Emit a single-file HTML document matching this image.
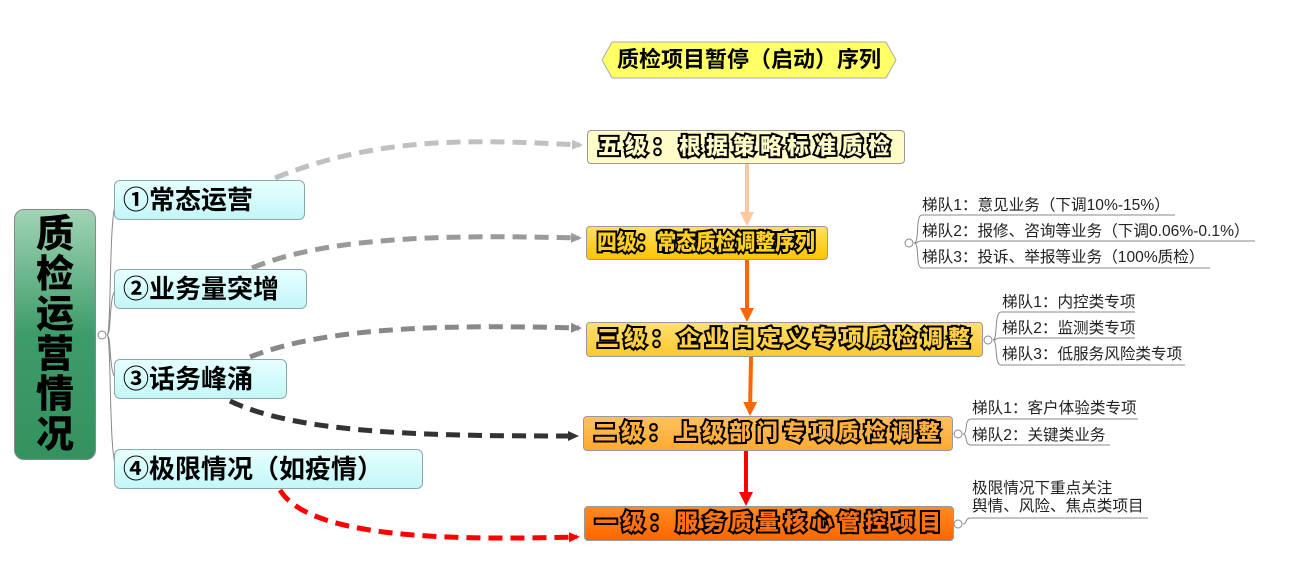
<!DOCTYPE html>
<html><head><meta charset="utf-8"><style>
body{margin:0;width:1299px;height:586px;background:#fff;position:relative;overflow:hidden;font-family:"Liberation Sans","Noto Sans CJK SC",sans-serif}
.a{position:absolute;box-sizing:border-box}
.br{background:linear-gradient(#e6ffff,#c4f6f8);border:1px solid #8aa;border-radius:6px;font-size:26px;font-weight:bold;color:#000;padding-left:8px;line-height:38px;white-space:nowrap}
.lv{border:1px solid #999;border-radius:4px;font-size:22px;font-weight:900;line-height:32px;padding-left:10px;white-space:nowrap;-webkit-text-stroke:4px #000;paint-order:stroke fill;letter-spacing:5px;overflow:hidden}
.t{font-size:15.6px;color:#222;white-space:nowrap;line-height:18px}
</style></head><body>
<svg class="a" style="left:0;top:0" width="1299" height="586">
<defs>
<marker id="m1" markerWidth="12" markerHeight="12" refX="8" refY="6" orient="auto" markerUnits="userSpaceOnUse"><path d="M0,1L11,6L0,11z" fill="#c0c0c0"/></marker>
<marker id="m2" markerWidth="12" markerHeight="12" refX="8" refY="6" orient="auto" markerUnits="userSpaceOnUse"><path d="M0,1L11,6L0,11z" fill="#999"/></marker>
<marker id="m3" markerWidth="12" markerHeight="12" refX="8" refY="6" orient="auto" markerUnits="userSpaceOnUse"><path d="M0,1L11,6L0,11z" fill="#888"/></marker>
<marker id="m4" markerWidth="12" markerHeight="12" refX="8" refY="6" orient="auto" markerUnits="userSpaceOnUse"><path d="M0,1L11,6L0,11z" fill="#333"/></marker>
<marker id="m5" markerWidth="12" markerHeight="12" refX="8" refY="6" orient="auto" markerUnits="userSpaceOnUse"><path d="M0,1L11,6L0,11z" fill="#f00"/></marker>
<marker id="v1" markerWidth="16" markerHeight="16" refX="10" refY="8" orient="auto" markerUnits="userSpaceOnUse"><path d="M0,1L14,8L0,15z" fill="#ffc8a0"/></marker>
<marker id="v2" markerWidth="16" markerHeight="16" refX="10" refY="8" orient="auto" markerUnits="userSpaceOnUse"><path d="M0,1L14,8L0,15z" fill="#ff6600"/></marker>
<marker id="v3" markerWidth="16" markerHeight="16" refX="10" refY="8" orient="auto" markerUnits="userSpaceOnUse"><path d="M0,1L14,8L0,15z" fill="#f00"/></marker>
</defs>
<g fill="none" stroke-width="5" stroke-dasharray="14 8">
<path d="M275,178 C380,135 480,140 580,145" stroke="#c0c0c0" marker-end="url(#m1)"/>
<path d="M252,268 C330,235 460,235 579,238" stroke="#999" marker-end="url(#m2)"/>
<path d="M250,357 C330,325 460,325 579,328" stroke="#888" marker-end="url(#m3)"/>
<path d="M230,401 C300,435 440,436 576,436" stroke="#333" marker-end="url(#m4)"/>
<path d="M280,490 C310,540 460,540 577,537" stroke="#f00" marker-end="url(#m5)"/>
</g>
<g stroke-width="4">
<line x1="747" y1="164" x2="747" y2="222" stroke="#ffc8a0" marker-end="url(#v1)"/>
<line x1="747" y1="260" x2="747" y2="318" stroke="#ff6600" marker-end="url(#v2)"/>
<line x1="751" y1="357" x2="750" y2="412" stroke="#ff6600" marker-end="url(#v2)"/>
<line x1="746" y1="451" x2="746" y2="502" stroke="#f00" marker-end="url(#v3)"/>
</g>
<g fill="none" stroke="#888" stroke-width="1">
<path d="M107,335 C112,335 108,200 118,200"/>
<path d="M107,335 C112,335 108,289 118,289"/>
<path d="M107,335 C112,335 108,379 118,379"/>
<path d="M107,335 C112,335 108,469 118,469"/>
<circle cx="102" cy="335" r="4" fill="#fff"/>
<path d="M914,243 C920,243 915,215 922,215 L1175,215"/>
<path d="M914,243 C920,243 915,241 922,241 L1255,241"/>
<path d="M914,243 C920,243 915,268 922,268 L1210,268"/>
<circle cx="909" cy="243" r="4" fill="#fff"/>
<path d="M993,340 C998,340 994,312 1001,312 L1135,312"/>
<path d="M993,340 C998,340 994,338 1001,338 L1135,338"/>
<path d="M993,340 C998,340 994,365 1001,365 L1185,365"/>
<circle cx="988" cy="340" r="4" fill="#fff"/>
<path d="M963,434 C968,434 964,419 971,419 L1138,419"/>
<path d="M963,434 C968,434 964,445 971,445 L1110,445"/>
<circle cx="958" cy="434" r="4" fill="#fff"/>
<path d="M963,524 C968,524 964,518 971,518 L1148,518"/>
<circle cx="958" cy="524" r="4" fill="#fff"/>
</g>
<path d="M612,42 L886,42 L896,60 L886,78 L612,78 L602,60 Z" fill="#ffff66" stroke="#aaa" stroke-width="1"/>
</svg>
<div class="a" style="left:602px;top:42px;width:294px;height:36px;text-align:center;font-size:22px;font-weight:bold;line-height:36px">质检项目暂停（启动）序列</div>
<div class="a" style="left:14px;top:209px;width:82px;height:251px;border-radius:10px;border:1px solid #888;background:linear-gradient(#a0d4b4,#3d9c6a 50%,#34925f);font-size:38px;font-weight:900;text-align:center;line-height:40px;padding-top:5px">质<br>检<br>运<br>营<br>情<br>况</div>
<div class="a br" style="left:114px;top:180px;width:191px;height:40px">①常态运营</div>
<div class="a br" style="left:114px;top:269px;width:193px;height:40px">②业务量突增</div>
<div class="a br" style="left:114px;top:359px;width:173px;height:40px">③话务峰涌</div>
<div class="a br" style="left:114px;top:449px;width:309px;height:40px">④极限情况（如疫情）</div>
<div class="a lv" style="left:587px;top:130px;width:318px;height:34px;background:#fffcc8;color:#fffcc8">五级：根据策略标准质检</div>
<div class="a lv" style="left:586px;top:226px;width:242px;height:34px;background:linear-gradient(#ffe060,#ffc400);color:#ffd020;letter-spacing:0"><span style="display:inline-block;transform:scaleX(0.9);transform-origin:0 50%">四级：常态质检调整序列</span></div>
<div class="a lv" style="left:586px;top:322px;width:397px;height:35px;background:linear-gradient(#ffe070,#ffc830);color:#ffd040">三级：企业自定义专项质检调整</div>
<div class="a lv" style="left:583px;top:416px;width:370px;height:35px;background:linear-gradient(#ffc060,#ffaa30);color:#ffb040">二级：上级部门专项质检调整</div>
<div class="a lv" style="left:584px;top:506px;width:370px;height:35px;background:linear-gradient(#ff8a20,#ff6600);color:#ff7010">一级：服务质量核心管控项目</div>
<div class="a t" style="left:922px;top:197px">梯队1：意见业务（下调10%-15%）</div>
<div class="a t" style="left:922px;top:223px">梯队2：报修、咨询等业务（下调0.06%-0.1%）</div>
<div class="a t" style="left:922px;top:249px">梯队3：投诉、举报等业务（100%质检）</div>
<div class="a t" style="left:1002px;top:294px">梯队1：内控类专项</div>
<div class="a t" style="left:1002px;top:320px">梯队2：监测类专项</div>
<div class="a t" style="left:1002px;top:346px">梯队3：低服务风险类专项</div>
<div class="a t" style="left:972px;top:400px">梯队1：客户体验类专项</div>
<div class="a t" style="left:972px;top:427px">梯队2：关键类业务</div>
<div class="a t" style="left:972px;top:480px">极限情况下重点关注<br>舆情、风险、焦点类项目</div>
</body></html>
